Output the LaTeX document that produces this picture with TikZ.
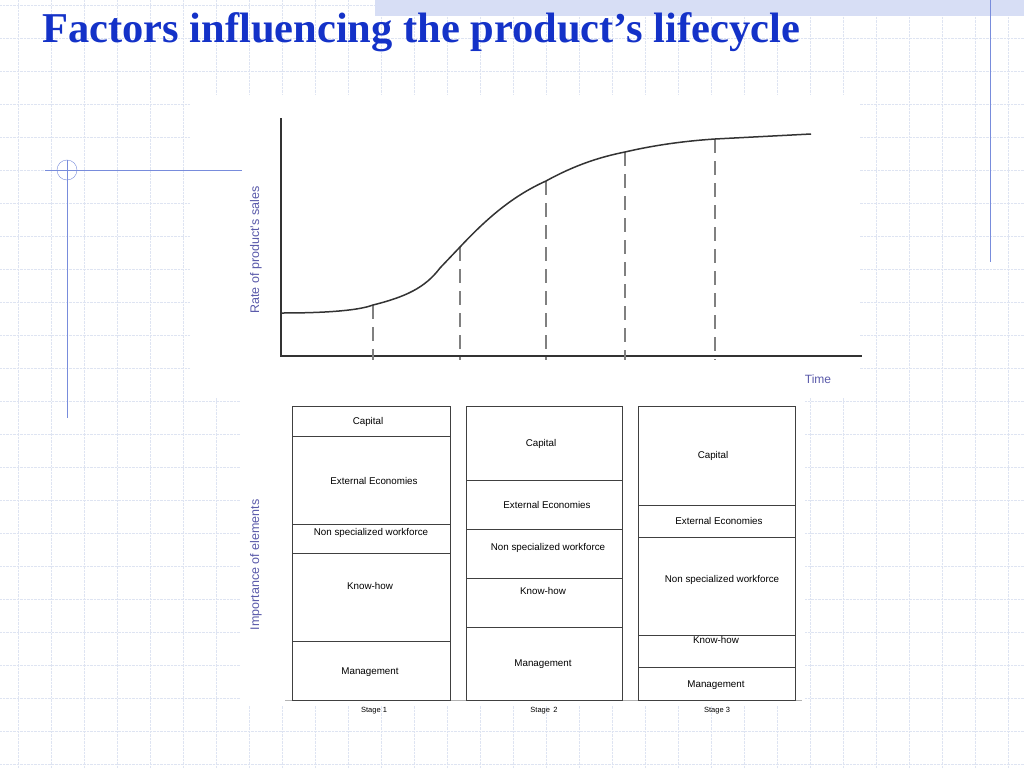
\documentclass[tikz,border=0pt]{standalone}
\usepackage{fontspec}
\setmainfont{Liberation Sans}
\newfontfamily\titlefont{Liberation Serif}
\definecolor{gridc}{RGB}{222,228,242}
\definecolor{titleblue}{RGB}{20,50,200}
\definecolor{lineblue}{RGB}{120,140,220}
\definecolor{labc}{RGB}{90,90,170}
\definecolor{bandc}{RGB}{215,222,245}
\begin{document}
\begin{tikzpicture}[x=1pt,y=-1pt,
  lab/.style={font=\fontsize{9.8}{11}\selectfont,inner sep=0},
  stg/.style={font=\fontsize{7.5}{9}\selectfont,inner sep=0},
  boxc/.style={draw=black!75,line width=0.6pt},
  dashline/.style={gray,line width=1.4pt,dash pattern=on 14pt off 8pt}]
\useasboundingbox (0,0) rectangle (1024,768);
\fill[white] (0,0) rectangle (1024,768);
\foreach \x in {18,51,...,1024} \draw[gridc,densely dotted] (\x,0) -- (\x,768);
\foreach \y in {5,38,...,768} \draw[gridc,densely dotted] (0,\y) -- (1024,\y);
\fill[white] (190,95) rectangle (860,398);
\fill[white] (240,398) rectangle (805,706);
\fill[bandc] (375,0) rectangle (1024,16);
\draw[lineblue] (990,0) -- (990,262);
\draw[lineblue] (45,170) -- (242,170);
\draw[lineblue] (67,160) -- (67,418);
\draw[lineblue] (67,170) circle (10);
\node[anchor=base west,inner sep=0,text=titleblue,font=\titlefont\bfseries\fontsize{42.5}{48}\selectfont] (title) at (42,43) {Factors influencing the product’s lifecycle};
% axes
\coordinate (ytop) at (281,118); \coordinate (org) at (281,356); \coordinate (xend) at (862,356);
\draw[line width=1.5pt,black!80] (ytop) -- (org) -- (xend);
% dashes
\foreach \x/\y in {373/305,460/247,546/181,625/152,715/139} \draw[dashline] (\x,\y) -- (\x,360);
\draw[line width=1.5pt,black!80] (282,313) .. controls (330,313) and (360,310) .. (373,305)
  .. controls (405,297) and (425,288) .. (440,268) -- (460,247)
  .. controls (490,215) and (515,195) .. (546,181)
  .. controls (575,165) and (600,157) .. (625,152)
  .. controls (655,145) and (685,141) .. (715,139) -- (811,134);
\node[rotate=90,text=labc,font=\fontsize{12.5}{14}\selectfont,inner sep=0] (ylab) at (256,250) {Rate of product’s sales};
\node[text=labc,font=\fontsize{12}{14}\selectfont,inner sep=0] (time) at (818,379) {Time};
\node[rotate=90,text=labc,font=\fontsize{12.5}{14}\selectfont,inner sep=0] (ylab2) at (256,565) {Importance of elements};
\draw[black!30] (285,700) -- (802,700);
% column 1
\draw[boxc] (292,406) rectangle (450,700);
\foreach \y in {436,524,553,641} \draw[boxc] (292,\y) -- (450,\y);
\node[lab] (a1) at (368,422) {Capital};
\node[lab] (a2) at (374,481) {External Economies};
\node[lab] (a3) at (371,533) {Non specialized workforce};
\node[lab] (a4) at (370,586) {Know-how};
\node[lab] (a5) at (370,672) {Management};
% column 2
\draw[boxc] (466,406) rectangle (622,700);
\foreach \y in {480,529,578,627} \draw[boxc] (466,\y) -- (622,\y);
\node[lab] (b1) at (541,444) {Capital};
\node[lab] (b2) at (547,505) {External Economies};
\node[lab] (b3) at (548,548) {Non specialized workforce};
\node[lab] (b4) at (543,591) {Know-how};
\node[lab] (b5) at (543,664) {Management};
% column 3
\draw[boxc] (638,406) rectangle (795,700);
\foreach \y in {505,537,635,667} \draw[boxc] (638,\y) -- (795,\y);
\node[lab] (c1) at (713,456) {Capital};
\node[lab] (c2) at (719,521) {External Economies};
\node[lab] (c3) at (722,580) {Non specialized workforce};
\node[lab] (c4) at (716,640) {Know-how};
\node[lab] (c5) at (716,685) {Management};
\node[stg] (s1) at (374,711) {Stage 1};
\node[stg] (s2) at (544,711) {Stage\, 2};
\node[stg] (s3) at (717,711) {Stage 3};
\end{tikzpicture}
\end{document}
